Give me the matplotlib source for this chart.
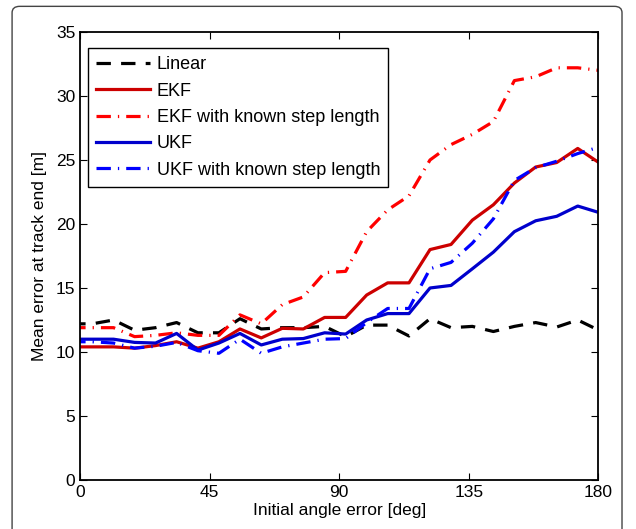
import matplotlib
matplotlib.use("Agg")
import matplotlib.pyplot as plt
from matplotlib.patches import FancyBboxPatch

plt.rcParams['font.family'] = ['Liberation Sans', 'DejaVu Sans']

# initial angle error [deg] at each sample
angle = [-3.1, 4.2, 11.6, 18.9, 26.2, 33.5, 40.9, 48.2, 55.5, 62.9, 70.2, 77.5, 84.9,
         92.2, 99.5, 106.8, 114.2, 121.5, 128.8, 136.2, 143.5, 150.8, 158.2, 165.5,
         172.8, 180.1]

linear = [12.2, 12.2, 12.5, 11.7, 11.9, 12.3, 11.5, 11.5, 12.6, 11.8, 11.9, 11.9, 12.0,
          11.2, 12.1, 12.1, 11.25, 12.6, 11.9, 12.0, 11.6, 12.0, 12.3, 11.95, 12.5, 11.7]
ekf = [10.4, 10.4, 10.4, 10.3, 10.5, 10.8, 10.3, 10.8, 11.8, 11.1, 11.85, 11.8, 12.7,
       12.7, 14.45, 15.4, 15.4, 18.0, 18.4, 20.3, 21.5, 23.2, 24.45, 24.8, 25.9, 24.8]
ekf_step = [11.9, 11.9, 11.9, 11.2, 11.3, 11.5, 11.3, 11.3, 12.9, 12.2, 13.7, 14.3, 16.2,
            16.3, 19.4, 21.1, 22.2, 25.0, 26.2, 27.0, 28.0, 31.2, 31.5, 32.2, 32.2, 32.0]
ukf = [11.0, 11.0, 11.0, 10.75, 10.7, 11.45, 10.15, 10.7, 11.45, 10.55, 11.0, 11.05, 11.5,
       11.4, 12.5, 13.0, 13.0, 15.0, 15.2, 16.5, 17.8, 19.4, 20.25, 20.6, 21.4, 20.9]
ukf_step = [10.8, 10.8, 10.7, 10.3, 10.45, 10.75, 10.1, 9.9, 11.0, 9.9, 10.4, 10.7, 11.0,
            11.05, 12.3, 13.4, 13.4, 16.5, 17.0, 18.5, 20.4, 23.4, 24.4, 24.9, 25.5, 26.0]

labels = ["Linear", "EKF", "EKF with known step length", "UKF",
          "UKF with known step length"]

fig = plt.figure(figsize=(6.36, 5.29), dpi=100)
ax = fig.add_axes([0.126, 0.0926, 0.815, 0.847])

# rounded frame round the figure
frame = FancyBboxPatch((0.019, -0.05), 0.959, 1.038, boxstyle="round,pad=0,rounding_size=0.012",
                       transform=fig.transFigure, fill=False, edgecolor="#444444", lw=1.0)
fig.patches.append(frame)

lw = 2.3
ax.plot(angle, linear, color="black", lw=lw, linestyle=(0, (4.5, 3.2)), label=labels[0])
ax.plot(angle, ekf, color="#cc0000", lw=lw, linestyle="-", label=labels[1])
ax.plot(angle, ekf_step, color="#ff0000", lw=lw, linestyle=(0, (4.5, 2.2, 0.4, 2.2)),
        label=labels[2])
ax.plot(angle, ukf, color="#0000cc", lw=lw, linestyle="-", label=labels[3])
ax.plot(angle, ukf_step, color="#0000ff", lw=lw, linestyle=(0, (4.5, 2.2, 0.4, 2.2)),
        label=labels[4])

ax.set_xlim(0, 180)
ax.set_ylim(0, 35)
ax.set_xticks([0, 45, 90, 135, 180])
ax.set_yticks(range(0, 36, 5))
ax.tick_params(direction="in", top=True, right=True, length=5, width=0.8, labelsize=12.5)
for s in ax.spines.values():
    s.set_linewidth(1.3)

ax.set_xlabel("Initial angle error [deg]", fontsize=12.5, labelpad=2)
ax.set_ylabel("Mean error at track end [m]", fontsize=12.5, labelpad=6)

leg = ax.legend(loc="upper left", bbox_to_anchor=(0.0154, 0.964), borderaxespad=0,
                fontsize=13, handlelength=3.0, handletextpad=0.35,
                labelspacing=0.52, fancybox=False, framealpha=1,
                edgecolor="black", borderpad=0.45)
leg.get_frame().set_linewidth(1.0)

fig.savefig("out.png", dpi=100)
